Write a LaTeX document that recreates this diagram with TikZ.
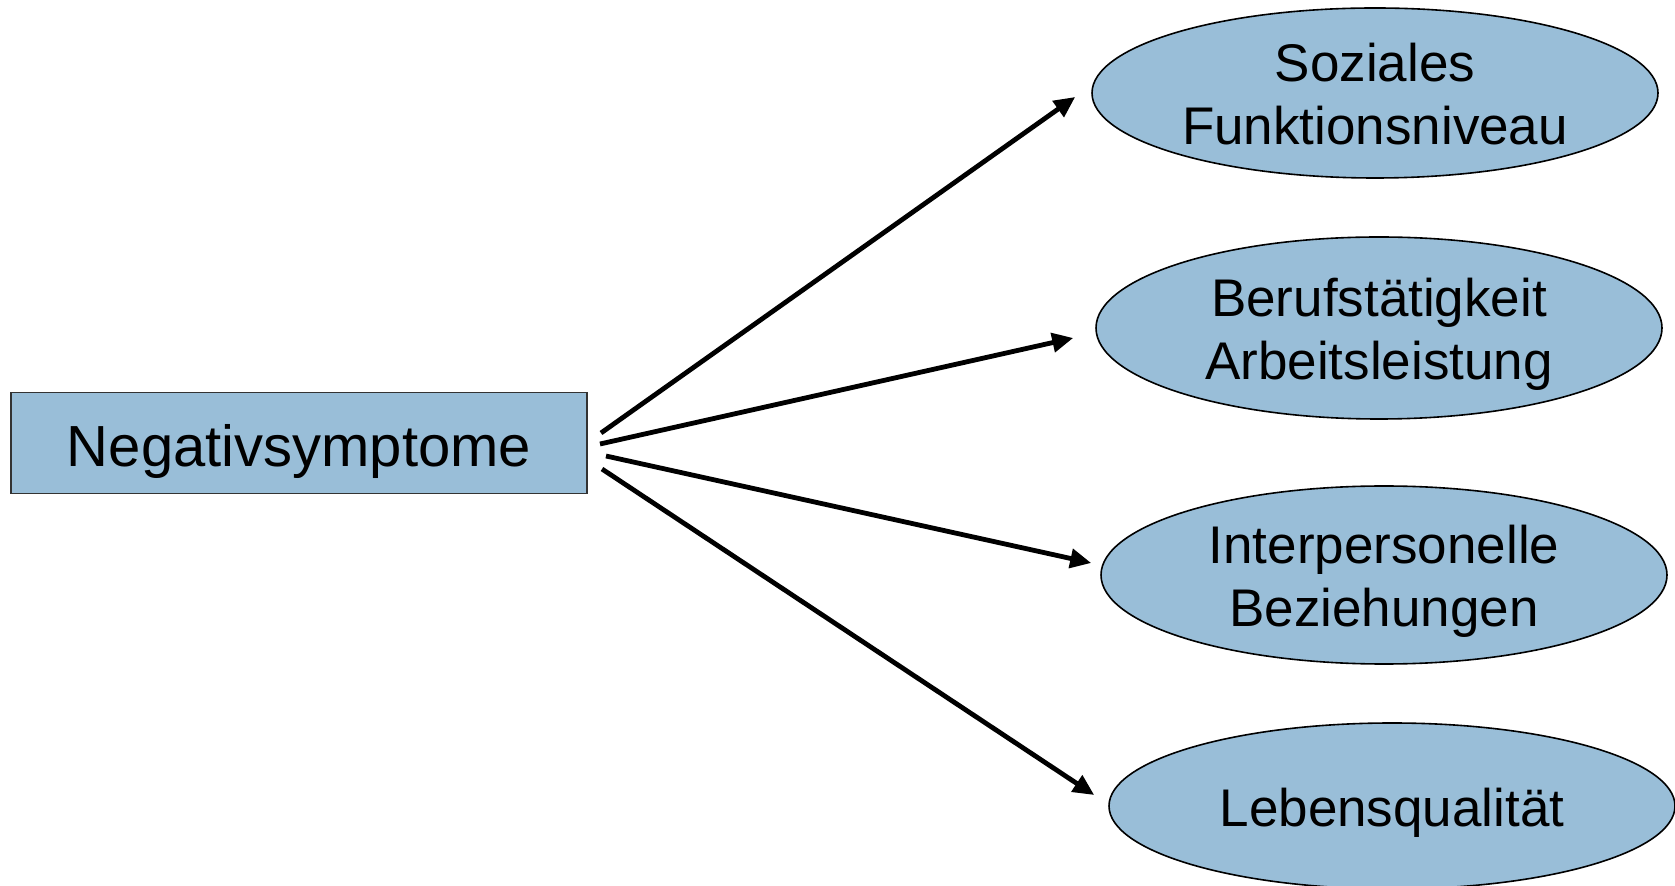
\documentclass[tikz,border=0pt]{standalone}
\usepackage{fontspec}
\setmainfont{Liberation Sans}
\usetikzlibrary{shapes.geometric,arrows.meta}

\definecolor{boxblue}{RGB}{153,190,216}

\begin{document}
\begin{tikzpicture}[x=0.5pt, y=-0.5pt,
    outcome/.style={draw, ellipse, fill=boxblue, line width=0.8pt,
        minimum width=283pt, minimum height=85pt, inner sep=0pt,
        text height=51.8pt, text depth=0pt,
        align=center, font=\fontsize{26.5}{31.5}\selectfont},
    effect/.style={-{Triangle[length=10.5pt,width=9.5pt]}, line width=2.4pt}]
            \useasboundingbox (0,0) rectangle (1675,886);

            \node[draw=black!80, fill=boxblue, line width=0.6pt, minimum width=288pt, minimum height=50.5pt,
                inner sep=0pt, text height=24pt, text depth=0pt,
                font=\fontsize{29}{34}\selectfont] (N) at (299,443) {Negativsymptome};

            \node[outcome] (S) at (1375,93) {Soziales\\Funktionsniveau};
            \node[outcome, minimum height=91pt] (B) at (1379,328) {Berufstätigkeit\\Arbeitsleistung};
            \node[outcome, minimum height=89pt] (I) at (1384,575) {Interpersonelle\\Beziehungen};
            \node[outcome, minimum height=83pt, text height=20pt] (L) at (1392,806) {Lebensqualität};

            \coordinate (n1) at (601,433);
            \coordinate (n2) at (600,444);
            \coordinate (n3) at (606,456);
            \coordinate (n4) at (602,469);

            \draw[effect] (n1) -- ([shift={(-16,4)}]S.west);
            \draw[effect] (n2) -- ([shift={(-22,10)}]B.west);
            \draw[effect] (n3) -- ([shift={(-9,-12)}]I.west);
            \draw[effect] (n4) -- ([shift={(-14,-11)}]L.west);
        \end{tikzpicture}
\end{document}
